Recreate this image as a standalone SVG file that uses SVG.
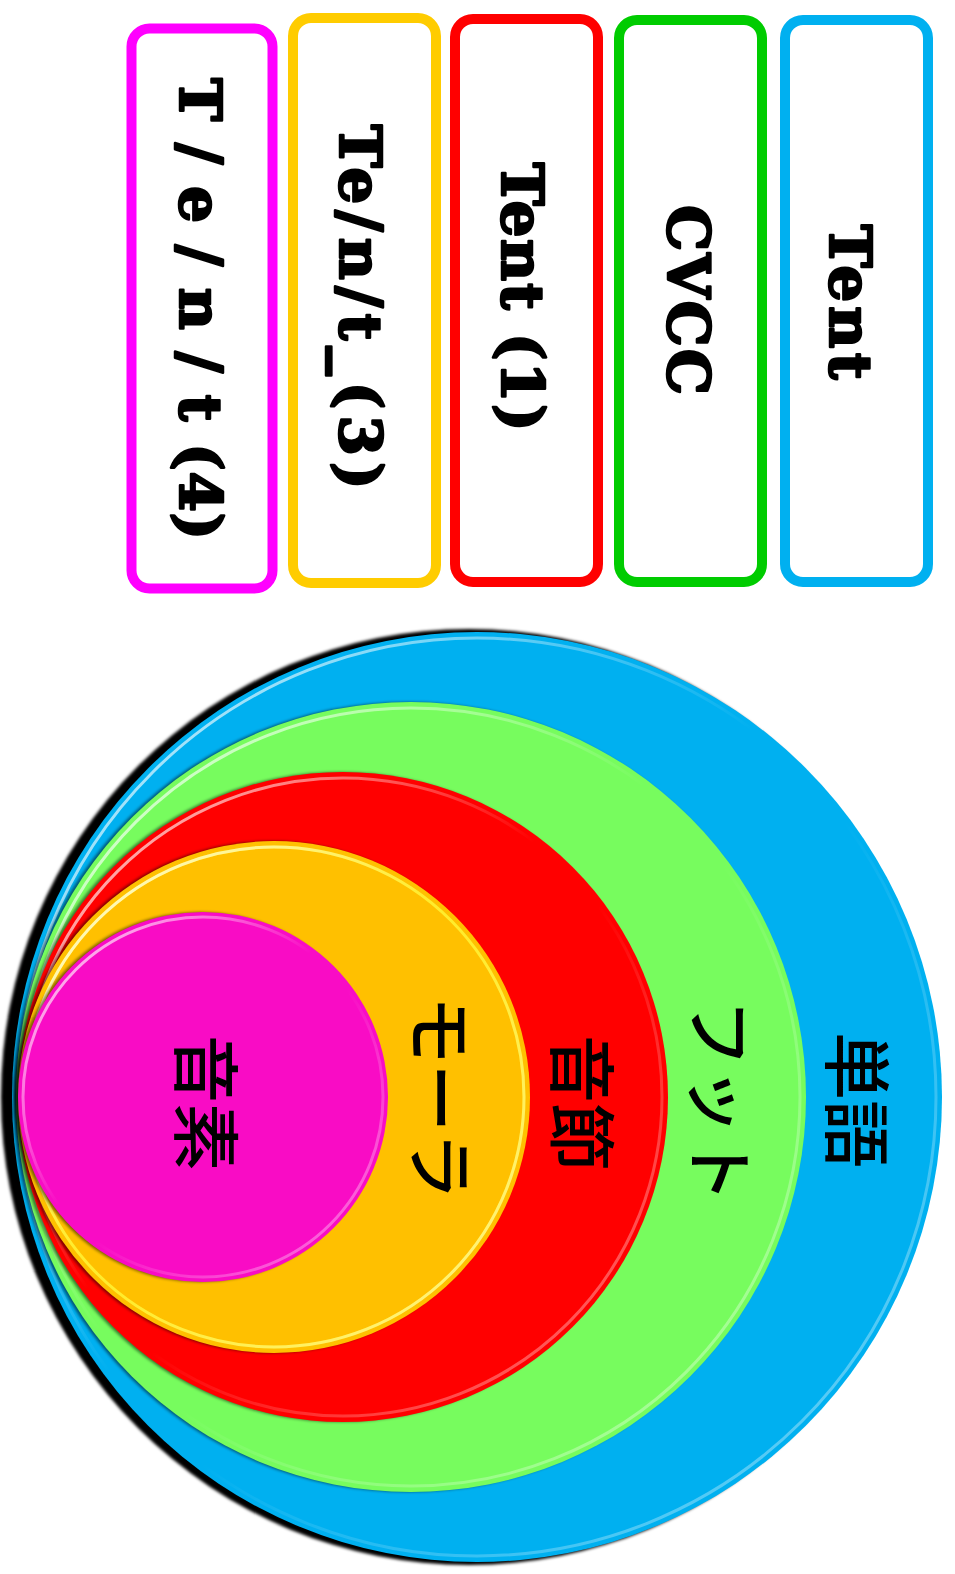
<svg xmlns="http://www.w3.org/2000/svg" width="955" height="1574" viewBox="0 0 955 1574">
<style>
.box{fill:#ffffff;stroke-width:10}
.bt{font-family:"DejaVu Serif","Liberation Serif",serif;font-weight:bold;font-size:58px;fill:#000;stroke:#000;stroke-width:2.5;stroke-linejoin:round;text-anchor:middle;dominant-baseline:central}
.ct{font-family:"Noto Sans CJK JP","Noto Sans CJK SC",sans-serif;font-weight:500;font-size:68px;fill:#000;text-anchor:middle;dominant-baseline:central}
.hl{fill:none;stroke:url(#hlg);stroke-width:3}
</style>
<defs>
<linearGradient id="hlg" x1="0" y1="0" x2="1" y2="1">
<stop offset="0" stop-color="#fff" stop-opacity="0.95"/>
<stop offset="0.45" stop-color="#fff" stop-opacity="0"/>
<stop offset="0.55" stop-color="#fff" stop-opacity="0"/>
<stop offset="1" stop-color="#fff" stop-opacity="0.5"/>
</linearGradient>
<filter id="blur" x="-5%" y="-5%" width="110%" height="110%"><feGaussianBlur stdDeviation="1.5"/></filter>
</defs>
<rect width="955" height="1574" fill="#fff"/>

<g id="circles">
<g id="c-word">
<circle cx="469" cy="1097" r="468" fill="#000" filter="url(#blur)"/>
<circle cx="477" cy="1097" r="465" fill="#00B0F0"/>
<circle cx="477" cy="1097" r="459" class="hl"/>
<text class="ct" transform="translate(860 1100) rotate(90)">単語</text>
</g>
<g id="c-foot">
<circle cx="408" cy="1097" r="395" fill="#000" opacity="0.5" filter="url(#blur)"/>
<circle cx="411" cy="1097" r="395" fill="#77FC5E"/>
<circle cx="411" cy="1097" r="389" class="hl"/>
<text class="ct" transform="translate(723 1101) rotate(90)">フット</text>
</g>
<g id="c-syll">
<circle cx="340" cy="1097" r="325" fill="#000" opacity="0.5" filter="url(#blur)"/>
<circle cx="343" cy="1097" r="325" fill="#FF0000"/>
<circle cx="343" cy="1097" r="319" class="hl"/>
<text class="ct" transform="translate(585 1103) rotate(90)">音節</text>
</g>
<g id="c-mora">
<circle cx="271" cy="1097" r="256" fill="#000" opacity="0.5" filter="url(#blur)"/>
<circle cx="274" cy="1097" r="256" fill="#FFC000"/>
<circle cx="274" cy="1097" r="250" fill="none" stroke="#FFFF40" stroke-width="3" stroke-opacity="0.7"/>
<circle cx="274" cy="1097" r="250" class="hl"/>
<text class="ct" transform="translate(444 1098) rotate(90)">モーラ</text>
</g>
<g id="c-phon">
<circle cx="200" cy="1097" r="185" fill="#000" opacity="0.5" filter="url(#blur)"/>
<circle cx="203" cy="1097" r="185" fill="#F90CC5"/>
<circle cx="203" cy="1097" r="180" class="hl"/>
<text class="ct" transform="translate(209 1103) rotate(90)">音素</text>
</g>
</g>

<g id="boxes">
<g id="b-phon">
<rect class="box" x="131.5" y="28.5" width="141" height="560" rx="18" stroke="#FF00FF"/>
<text class="bt" transform="translate(200 309) rotate(90)" textLength="462">T / e / n / t (4)</text>
</g>
<g id="b-mora">
<rect class="box" x="293" y="18" width="143" height="565" rx="18" stroke="#FFCC00"/>
<text class="bt" transform="translate(360 307) rotate(90)" textLength="365">Te/n/t_(3)</text>
</g>
<g id="b-syll">
<rect class="box" x="455" y="19" width="143" height="563" rx="18" stroke="#FF0000"/>
<text class="bt" transform="translate(522 297) rotate(90)" textLength="269">Tent (1)</text>
</g>
<g id="b-foot">
<rect class="box" x="619" y="20" width="143" height="562" rx="18" stroke="#00CC00"/>
<text class="bt" transform="translate(688 300) rotate(90)" textLength="190">CVCC</text>
</g>
<g id="b-word">
<rect class="box" x="785" y="20" width="143" height="562" rx="18" stroke="#00B0F0"/>
<text class="bt" transform="translate(850 302) rotate(90)" textLength="155">Tent</text>
</g>
</g>
</svg>
